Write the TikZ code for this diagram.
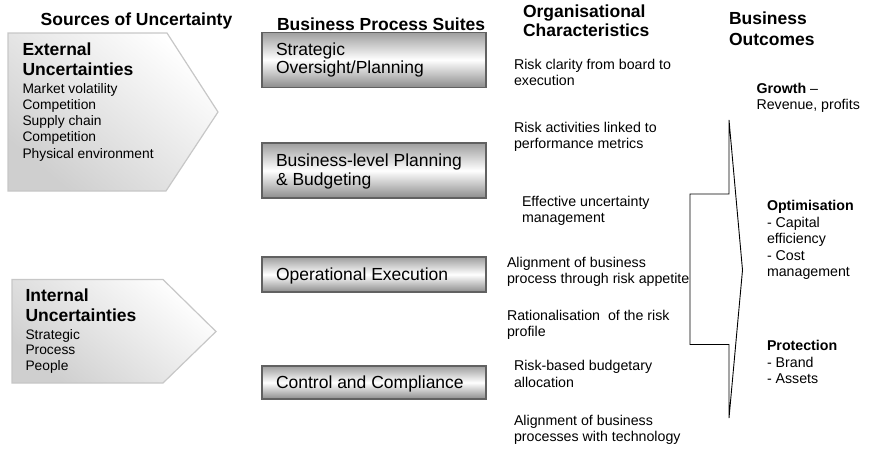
\documentclass[tikz,border=0pt]{standalone}
\usepackage{fontspec}
\setmainfont{Liberation Sans}
\begin{document}
\begin{tikzpicture}[x=1pt,y=-1pt,
  every node/.style={inner sep=0pt, outer sep=0pt},
  head/.style={font=\fontsize{17.5}{21}\selectfont\bfseries, align=left, anchor=base west},
  orghead/.style={font=\fontsize{17.5}{19}\selectfont\bfseries, align=left, anchor=base west},
  subhead/.style={font=\fontsize{17.5}{20}\selectfont\bfseries, align=left, anchor=base west},
  body/.style={font=\fontsize{13.8}{16.3}\selectfont, align=left, anchor=base west},
  ibody/.style={font=\fontsize{13.8}{15.8}\selectfont, align=left, anchor=base west},
  boxtxt/.style={font=\fontsize{17.5}{18.3}\selectfont, align=left, anchor=base west},
  orgtxt/.style={font=\fontsize{14.2}{16.3}\selectfont, align=left, anchor=base west},
  outtxt/.style={font=\fontsize{14.2}{16.5}\selectfont, align=left, anchor=base west},
  chev/.style={draw=black!22, line width=1.2pt, top color=white, bottom color=black!19, shading angle=-40},
  pbox/.style={draw=black!62, line width=1.6pt, top color=black!38, bottom color=black!45, middle color=white, minimum width=224pt},
  outline/.style={draw=black, line width=0.9pt}
]
\useasboundingbox (0,0) rectangle (878,459);

% headings
\node[head, anchor=base] (h1) at (136.5,25) {Sources of Uncertainty};
\node[head] (h2) at (277,30) {Business Process Suites};
\node[orghead] (h3) at (523,36.5) {Organisational\\Characteristics};
\node[head] (h4) at (729,45) {Business\\Outcomes};

% chevrons
\draw[chev] (8,33) -- (167,33) -- (218,112) -- (166,191) -- (8,191) -- cycle;
\draw[chev] (12,279.5) -- (163,279.5) -- (216,331.5) -- (163,383) -- (12,383) -- cycle;

\node[subhead] (ext) at (22.5,75) {External\\Uncertainties};
\node[body] (extl) at (22.5,158.2) {Market volatility\\Competition\\Supply chain\\Competition\\Physical environment};
\node[subhead] (int) at (25.5,321.5) {Internal\\Uncertainties};
\node[ibody] (intl) at (25.5,370.6) {Strategic\\Process\\People};

% process boxes
\node[pbox, minimum height=55pt] (b1) at (374,59.8) {};
\node[pbox, minimum height=55pt] (b2) at (374,170.5) {};
\node[pbox, minimum height=35pt] (b3) at (374,274.5) {};
\node[pbox, minimum height=33pt] (b4) at (374,382.5) {};
\node[boxtxt] (b1t) at (276,73.3) {Strategic\\Oversight/Planning};
\node[boxtxt] (b2t) at (276,185) {Business-level Planning\\\& Budgeting};
\node[boxtxt] (b3t) at (276,280) {Operational Execution};
\node[boxtxt] (b4t) at (276,388) {Control and Compliance};

% organisational characteristics
\node[orgtxt] (o1) at (514,85.3) {Risk clarity from board to\\execution};
\node[orgtxt] (o2) at (514,148.3) {Risk activities linked to\\performance metrics};
\node[orgtxt] (o3) at (522,222.5) {Effective uncertainty\\management};
\node[orgtxt] (o4) at (507,283.3) {Alignment of business\\process through risk appetite};
\node[orgtxt] (o5) at (507,336.5) {Rationalisation\ \ of the risk\\profile};
\node[orgtxt] (o6) at (514,387) {Risk-based budgetary\\allocation};
\node[orgtxt] (o7) at (514,441.5) {Alignment of business\\processes with technology};

% outcome arrow
\draw[outline] (690,194) -- (729,194) -- (729,120) -- (742.5,270) -- (729,418) -- (729,344.5) -- (690,344.5) -- cycle;

% outcomes
\node[outtxt] (g) at (756.5,109.8) {\textbf{Growth} --\\Revenue, profits};
\node[outtxt] (op) at (767,276.7) {\textbf{Optimisation}\\- Capital\\efficiency\\- Cost\\management};
\node[outtxt] (pr) at (767,383.7) {\textbf{Protection}\\- Brand\\- Assets};
\end{tikzpicture}
\end{document}
